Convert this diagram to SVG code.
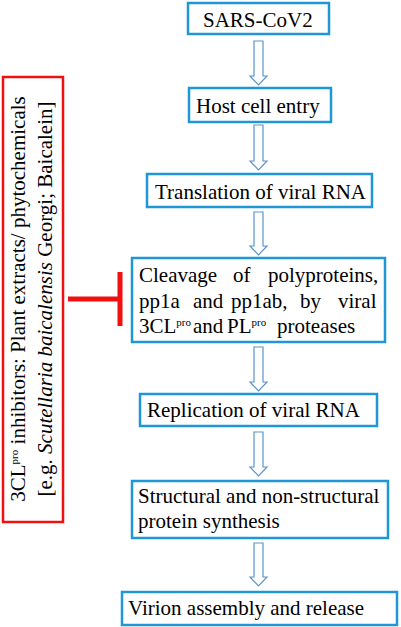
<svg xmlns="http://www.w3.org/2000/svg" width="401" height="627" viewBox="0 0 401 627">
<style>
.box{fill:#fff;stroke:#1f96d6;stroke-width:2.5}
.arr{fill:#fff;stroke:#5b95cc;stroke-width:1.2}
.t{font-family:"Liberation Serif","Times New Roman",serif;font-size:21px;fill:#000}
.i{font-style:italic}
.sup{font-size:11px}
.red{fill:none;stroke:#f01010;stroke-width:2.5}
.inh{stroke:#f01010;stroke-width:5;fill:none}
</style>
<rect width="401" height="627" fill="#fff"/>
<g id="connectors">
<path class="arr" d="M254,41 H263 V76 H267 L258.5,85 L250,76 H254 Z"/>
<path class="arr" d="M254,125 H263 V161 H267 L258.5,170 L250,161 H254 Z"/>
<path class="arr" d="M254,212 H263 V246 H267 L258.5,255 L250,246 H254 Z"/>
<path class="arr" d="M254,347 H263 V382 H267 L258.5,391 L250,382 H254 Z"/>
<path class="arr" d="M254,432 H263 V467 H267 L258.5,476 L250,467 H254 Z"/>
<path class="arr" d="M254,543 H263 V577 H267 L258.5,586 L250,577 H254 Z"/>
<path class="inh" d="M68,299 H120 M120,272 V326"/>
</g>
<g id="sars">
<rect class="box" x="188" y="3" width="141" height="31"/>
<text class="t" x="203" y="27">SARS-CoV2</text>
</g>
<g id="host">
<rect class="box" x="189" y="88" width="142" height="34"/>
<text class="t" x="196" y="113">Host cell entry</text>
</g>
<g id="translation">
<rect class="box" x="147" y="174" width="225" height="33"/>
<text class="t" x="155" y="199">Translation of viral RNA</text>
</g>
<g id="cleavage">
<rect class="box" x="132" y="258" width="253" height="84"/>
<text class="t" y="282"><tspan x="139">Cleavage</tspan><tspan x="233">of</tspan><tspan x="268">polyproteins,</tspan></text>
<text class="t" y="308"><tspan x="139">pp1a</tspan><tspan x="193">and</tspan><tspan x="231">pp1ab,</tspan><tspan x="300">by</tspan><tspan x="338">viral</tspan></text>
<text class="t" y="333"><tspan x="139">3CL</tspan><tspan class="sup" dy="-7">pro</tspan><tspan x="193" dy="7">and</tspan><tspan x="227">PL</tspan><tspan class="sup" dy="-7">pro</tspan><tspan x="277" dy="7">proteases</tspan></text>
</g>
<g id="replication">
<rect class="box" x="140" y="394" width="237" height="32"/>
<text class="t" x="147" y="417">Replication of viral RNA</text>
</g>
<g id="synthesis">
<rect class="box" x="132" y="481" width="256" height="57"/>
<text class="t" x="138" y="503">Structural and non-structural</text>
<text class="t" x="138" y="528">protein synthesis</text>
</g>
<g id="virion">
<rect class="box" x="122" y="592" width="275" height="33"/>
<text class="t" x="128" y="615">Virion assembly and release</text>
</g>
<g id="inhibitors">
<rect class="red" x="3" y="77" width="60" height="445"/>
<text class="t" text-anchor="middle" transform="translate(25,299) rotate(-90)">3CL<tspan class="sup" dy="-7">pro</tspan><tspan dy="7"> inhibitors: Plant extracts/ phytochemicals</tspan></text>
<text class="t" text-anchor="middle" transform="translate(52,299) rotate(-90)">[e.g. <tspan class="i">Scutellaria baicalensis</tspan> Georgi; Baicalein]</text>
</g>
</svg>
